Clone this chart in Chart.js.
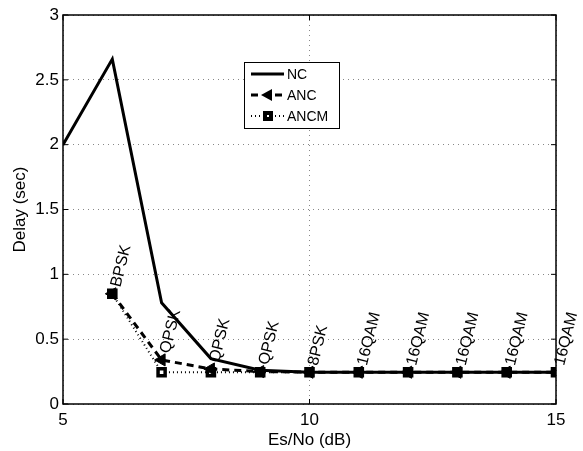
<!DOCTYPE html>
<html>
<head>
<meta charset="utf-8">
<script src="https://cdn.jsdelivr.net/npm/chart.js@4/dist/chart.umd.min.js"></script>
<style>
    html, body { margin: 0; padding: 0; background: #fff; }
    #wrap { width: 583px; height: 451px; }
</style>
</head>
<body>
<div id="wrap"><canvas id="mainChart" width="583" height="451"></canvas></div>
<script>
// -----------------------------
// data
// -----------------------------
const esNo = [5, 6, 7, 8, 9, 10, 11, 12, 13, 14, 15];

const ncDelay   = [2.0, 2.66, 0.78, 0.35, 0.26, 0.245, 0.245, 0.245, 0.245, 0.245, 0.245];
const ancDelay  = [null, 0.85, 0.34, 0.27, 0.25, 0.245, 0.245, 0.245, 0.245, 0.245, 0.245];
const ancmDelay = [null, 0.85, 0.245, 0.245, 0.245, 0.245, 0.245, 0.245, 0.245, 0.245, 0.245];

// modulation tags along the ANC curve
const modLabels = [null, "BPSK", "QPSK", "QPSK", "QPSK", "8PSK", "16QAM", "16QAM", "16QAM", "16QAM", "16QAM"];

const xTicks = [5, 10, 15];
const yTicks = [0, 0.5, 1, 1.5, 2, 2.5, 3];

const FONT = "'Liberation Sans', Arial, Helvetica, sans-serif";

function toPoints(ys) {
    return esNo.map((x, i) => ({ x: x, y: ys[i] })).filter(p => p.y !== null);
}

// -----------------------------
// plugins: frame, tags, legend
// -----------------------------
const framePlugin = {
    id: "frame",
    afterDraw(chart) {
        const a = chart.chartArea;
        const ctx = chart.ctx;
        ctx.save();
        ctx.strokeStyle = "#000";
        ctx.lineWidth = 1.5;
        ctx.setLineDash([]);
        ctx.strokeRect(a.left, a.top, a.right - a.left, a.bottom - a.top);
        // small inward tick marks
        ctx.lineWidth = 1;
        chart.scales.x.ticks.forEach(t => {
            const px = chart.scales.x.getPixelForValue(t.value);
            ctx.beginPath();
            ctx.moveTo(px, a.bottom); ctx.lineTo(px, a.bottom - 5);
            ctx.moveTo(px, a.top); ctx.lineTo(px, a.top + 5);
            ctx.stroke();
        });
        chart.scales.y.ticks.forEach(t => {
            const py = chart.scales.y.getPixelForValue(t.value);
            ctx.beginPath();
            ctx.moveTo(a.left, py); ctx.lineTo(a.left + 5, py);
            ctx.moveTo(a.right, py); ctx.lineTo(a.right - 5, py);
            ctx.stroke();
        });
        ctx.restore();
    }
};

const tagPlugin = {
    id: "tags",
    afterDatasetsDraw(chart) {
        const ctx = chart.ctx;
        const xs = chart.scales.x, ys = chart.scales.y;
        ctx.save();
        ctx.fillStyle = "#000";
        ctx.font = "16px " + FONT;
        ctx.textAlign = "left";
        ctx.textBaseline = "alphabetic";
        modLabels.forEach((t, i) => {
            if (!t) return;
            const px = xs.getPixelForValue(esNo[i]);
            const py = ys.getPixelForValue(ancDelay[i]);
            ctx.save();
            ctx.translate(px + 8, py - 6);
            ctx.rotate(-76 * Math.PI / 180);
            ctx.fillText(t, 0, 0);
            ctx.restore();
        });
        ctx.restore();
    }
};

const legendPlugin = {
    id: "boxLegend",
    afterDraw(chart) {
        const ctx = chart.ctx;
        const bx = 244, by = 62, bw = 95, bh = 66;
        ctx.save();
        ctx.fillStyle = "#fff";
        ctx.fillRect(bx, by, bw, bh);
        ctx.strokeStyle = "#000";
        ctx.lineWidth = 1;
        ctx.strokeRect(bx + 0.5, by + 0.5, bw, bh);
        ctx.font = "14px " + FONT;
        ctx.textBaseline = "middle";
        ctx.fillStyle = "#000";
        chart.data.datasets.forEach((ds, i) => {
            const cy = by + 12 + i * 21;
            ctx.strokeStyle = "#000";
            ctx.lineWidth = ds.borderWidth;
            ctx.setLineDash(ds.borderDash || []);
            ctx.beginPath();
            ctx.moveTo(bx + 7, cy);
            ctx.lineTo(bx + 40, cy);
            ctx.stroke();
            ctx.setLineDash([]);
            if (ds.pointStyle === "triangle") {
                ctx.fillStyle = "#fff";
                ctx.fillRect(bx + 16, cy - 7, 14, 14);
                ctx.fillStyle = "#000";
                ctx.beginPath();
                ctx.moveTo(bx + 17, cy);
                ctx.lineTo(bx + 28, cy - 6);
                ctx.lineTo(bx + 28, cy + 6);
                ctx.closePath();
                ctx.fill();
            } else if (ds.pointStyle === "rect") {
                ctx.fillStyle = "#fff";
                ctx.fillRect(bx + 17, cy - 6, 13, 12);
                ctx.fillStyle = "#000";
                ctx.fillRect(bx + 19, cy - 5, 10, 10);
                ctx.fillStyle = "#fff";
                ctx.fillRect(bx + 23, cy - 1, 2, 2);
            }
            ctx.fillStyle = "#000";
            ctx.fillText(ds.label, bx + 43, cy + 1);
        });
        ctx.restore();
    }
};

// -----------------------------
// chart
// -----------------------------
new Chart(document.getElementById("mainChart"), {
    type: "line",
    data: {
        datasets: [
            {
                label: "NC",
                data: toPoints(ncDelay),
                borderColor: "#000",
                borderWidth: 3,
                pointRadius: 0,
                pointStyle: false,
                tension: 0,
                order: 1
            },
            {
                label: "ANC",
                data: toPoints(ancDelay),
                borderColor: "#000",
                backgroundColor: "#000",
                borderWidth: 3,
                borderDash: [7, 5],
                pointStyle: "triangle",
                rotation: -90,
                pointRadius: 7,
                pointBorderWidth: 1,
                tension: 0,
                order: 0
            },
            {
                label: "ANCM",
                data: toPoints(ancmDelay),
                borderColor: "#000",
                backgroundColor: "#fff",
                borderWidth: 2,
                borderDash: [1, 3],
                pointStyle: "rect",
                pointRadius: 5,
                pointBorderWidth: 3.5,
                tension: 0,
                order: 2
            }
        ]
    },
    options: {
        responsive: false,
        animation: false,
        events: [],
        layout: { padding: { left: 0, right: 27, top: 15, bottom: 0 } },
        plugins: {
            legend: { display: false },
            tooltip: { enabled: false }
        },
        scales: {
            x: {
                type: "linear",
                min: 5,
                max: 15,
                afterBuildTicks(s) { s.ticks = xTicks.map(v => ({ value: v })); },
                afterFit(s) { s.height = 47; },
                grid: { color: "#888", lineWidth: 1, drawTicks: false },
                border: { display: false, dash: [1, 4] },
                ticks: {
                    color: "#000",
                    padding: 6,
                    font: { family: FONT, size: 17 },
                    maxRotation: 0,
                    callback: v => String(v)
                },
                title: {
                    display: true,
                    text: "Es/No (dB)",
                    color: "#000",
                    padding: { top: -3, bottom: 0 },
                    font: { family: FONT, size: 17 }
                }
            },
            y: {
                min: 0,
                max: 3,
                afterBuildTicks(s) { s.ticks = yTicks.map(v => ({ value: v })); },
                afterFit(s) { s.width = 63; },
                grid: { color: "#888", lineWidth: 1, drawTicks: false },
                border: { display: false, dash: [1, 4] },
                ticks: {
                    color: "#000",
                    padding: 4,
                    font: { family: FONT, size: 17 },
                    callback: v => String(v)
                },
                title: {
                    display: true,
                    text: "Delay (sec)",
                    color: "#000",
                    padding: { top: 10, bottom: 0 },
                    font: { family: FONT, size: 17 }
                }
            }
        }
    },
    plugins: [framePlugin, tagPlugin, legendPlugin]
});
</script>
</body>
</html>
